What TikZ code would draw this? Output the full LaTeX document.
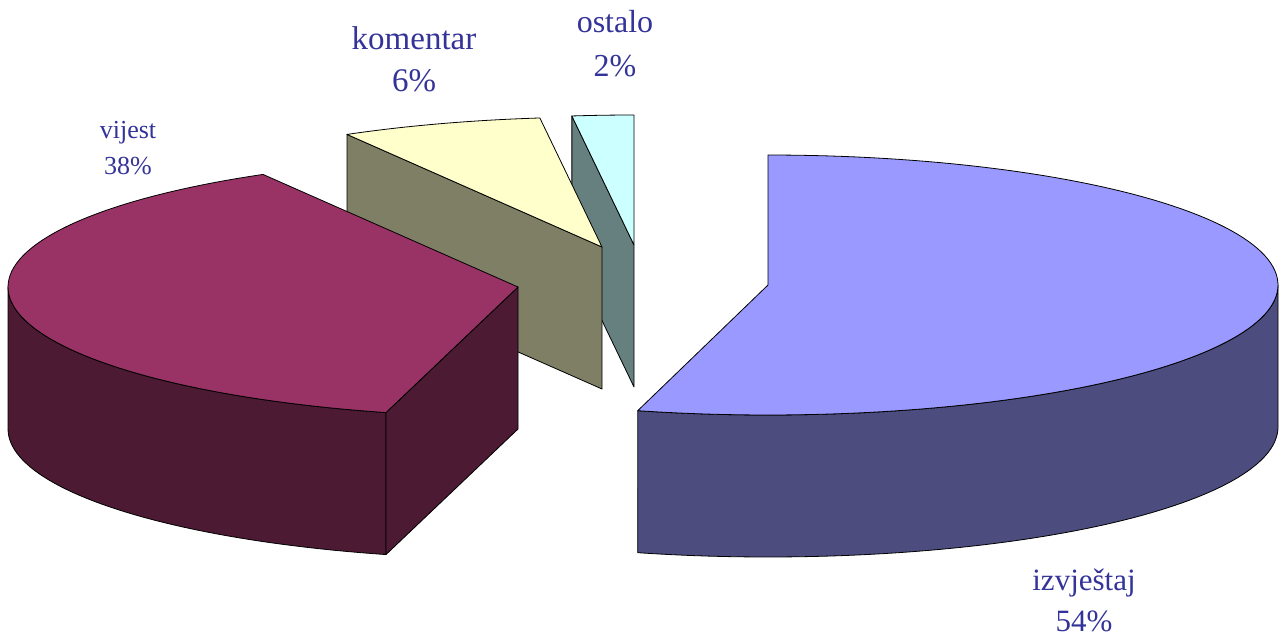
\documentclass[tikz,border=0pt]{standalone}
\usepackage{fontspec}
\setmainfont{Liberation Serif}
\definecolor{izvtop}{HTML}{9999FF}
\definecolor{izvside}{HTML}{4C4C7F}
\definecolor{vijtop}{HTML}{993366}
\definecolor{vijside}{HTML}{4C1A33}
\definecolor{komtop}{HTML}{FFFFCC}
\definecolor{komside}{HTML}{7F7F66}
\definecolor{osttop}{HTML}{CCFFFF}
\definecolor{ostside}{HTML}{668080}
\definecolor{lblblue}{HTML}{333399}

\begin{document}
\begin{tikzpicture}
[x=1pt,y=-1pt,
 slice/.style={draw=black,line width=0.8pt,line join=round},
 lbl/.style={text=lblblue,anchor=base,inner sep=0pt}]
\useasboundingbox (0,0) rectangle (1279,639);
% ostalo
\filldraw[slice,fill=ostside] (634,245) -- (634,387)
  -- ({634+510*cos(97)},{387-130*sin(97)})
  -- ({634+510*cos(97)},{245-130*sin(97)}) -- cycle;
\filldraw[slice,fill=osttop] (634,245)
  -- plot[domain=97:90,samples=10] ({634+510*cos(\x)},{245-130*sin(\x)}) -- cycle;
% komentar
\filldraw[slice,fill=komside] (602,247) -- (602,389)
  -- ({602+510*cos(120)},{389-130*sin(120)})
  -- ({602+510*cos(120)},{247-130*sin(120)}) -- cycle;
\filldraw[slice,fill=komtop] (602,247)
  -- plot[domain=120:97,samples=20] ({602+510*cos(\x)},{247-130*sin(\x)}) -- cycle;
% vijest
\filldraw[slice,fill=vijside]
  plot[domain=180:255,samples=50] ({518+510*cos(\x)},{287-130*sin(\x)})
  -- plot[domain=255:180,samples=50] ({518+510*cos(\x)},{429-130*sin(\x)}) -- cycle;
\filldraw[slice,fill=vijside] (518,287) -- (518,429)
  -- ({518+510*cos(255)},{429-130*sin(255)})
  -- ({518+510*cos(255)},{287-130*sin(255)}) -- cycle;
\filldraw[slice,fill=vijtop] (518,287)
  -- plot[domain=120:255,samples=80] ({518+510*cos(\x)},{287-130*sin(\x)}) -- cycle;
% izvjestaj
\filldraw[slice,fill=izvside]
  plot[domain=0:-104.8,samples=80] ({768+510*cos(\x)},{285-130*sin(\x)})
  -- plot[domain=-104.8:0,samples=80] ({768+510*cos(\x)},{427-130*sin(\x)}) -- cycle;
\filldraw[slice,fill=izvtop] (768,285) -- (768,155)
  -- plot[domain=90:-104.8,samples=120] ({768+510*cos(\x)},{285-130*sin(\x)}) -- cycle;
% labels
\node[lbl,font=\fontsize{33}{40}\selectfont] (komentar) at (414,50) {komentar};
\node[lbl,font=\fontsize{33}{40}\selectfont] (komentarpct) at (414,92) {6\%};
\node[lbl,font=\fontsize{32}{40}\selectfont] (ostalo) at (615,33) {ostalo};
\node[lbl,font=\fontsize{32}{40}\selectfont] (ostalopct) at (615,77) {2\%};
\node[lbl,font=\fontsize{26}{32}\selectfont] (vijest) at (128,139) {vijest};
\node[lbl,font=\fontsize{26}{32}\selectfont] (vijestpct) at (128,175) {38\%};
\node[lbl,font=\fontsize{31}{40}\selectfont] (izvjestaj) at (1084,590) {izvještaj};
\node[lbl,font=\fontsize{31}{40}\selectfont] (izvjestajpct) at (1084,631) {54\%};
\end{tikzpicture}
\end{document}
